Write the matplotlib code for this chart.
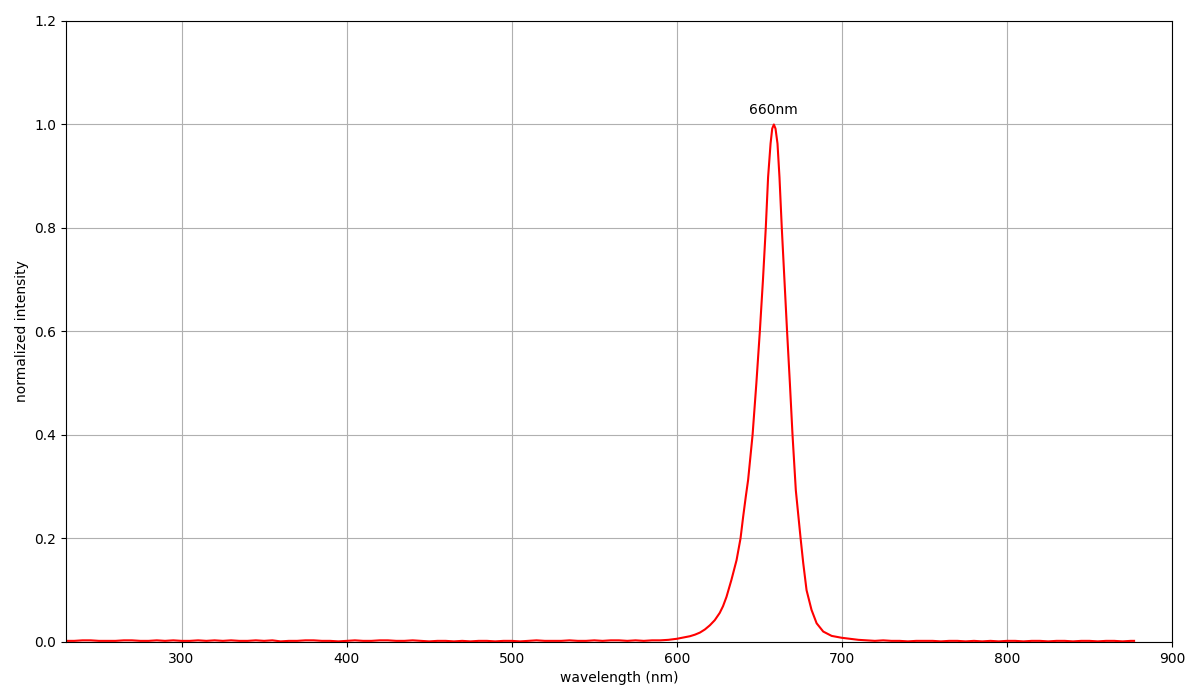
import matplotlib
matplotlib.use('Agg')
import matplotlib.pyplot as plt
import numpy as np

# flat part below the peak, every 5 nm
base_left_wl = np.arange(230, 590, 5)
base_left = [0.002, 0.002, 0.003, 0.003, 0.002, 0.002, 0.002, 0.003, 0.003, 0.002,
             0.002, 0.003, 0.002, 0.003, 0.002, 0.002, 0.003, 0.002, 0.003, 0.002,
             0.003, 0.002, 0.002, 0.003, 0.002, 0.003, 0.001, 0.002, 0.002, 0.003,
             0.003, 0.002, 0.002, 0.001, 0.002, 0.003, 0.002, 0.002, 0.003, 0.003,
             0.002, 0.002, 0.003, 0.002, 0.001, 0.002, 0.002, 0.001, 0.002, 0.001,
             0.002, 0.002, 0.001, 0.002, 0.002, 0.001, 0.002, 0.003, 0.002, 0.002,
             0.002, 0.003, 0.002, 0.002, 0.003, 0.002, 0.003, 0.003, 0.002, 0.003,
             0.002, 0.003]

# the peak
peak_wl = [590, 595, 600, 605, 608, 611, 614, 617, 620, 623, 626, 628, 630.1,
           633.1, 636.2, 638.6, 640.2, 641.8, 643.2, 645.9, 648.2, 650.3, 652.2,
           653.9, 655.3, 656.8, 657.8, 658.8, 659.8, 661, 662.2, 663.6, 665.2,
           666.8, 668.5, 670.1, 672.1, 673.5, 675, 676.6, 678.6, 681.6, 684.7,
           688.7, 693.8, 699.8, 704.8]
peak = [0.003, 0.004, 0.006, 0.009, 0.011, 0.014, 0.018, 0.024, 0.032, 0.042,
        0.056, 0.069, 0.087, 0.120, 0.158, 0.200, 0.242, 0.281, 0.313, 0.400,
        0.500, 0.600, 0.700, 0.800, 0.898, 0.963, 0.992, 1.0, 0.992, 0.963,
        0.898, 0.800, 0.700, 0.600, 0.500, 0.400, 0.293, 0.248, 0.200, 0.152,
        0.100, 0.062, 0.036, 0.020, 0.0116, 0.008, 0.006]

# tail after the peak
base_right_wl = list(range(710, 880, 5)) + [877]
base_right = [0.004, 0.003, 0.002, 0.003, 0.002, 0.002, 0.001, 0.002, 0.002, 0.002,
              0.001, 0.002, 0.002, 0.001, 0.002, 0.001, 0.002, 0.001, 0.002, 0.002,
              0.001, 0.002, 0.002, 0.001, 0.002, 0.002, 0.001, 0.002, 0.002, 0.001,
              0.002, 0.002, 0.001, 0.002, 0.002]

wl = np.concatenate([base_left_wl, peak_wl, base_right_wl])
intensity = np.concatenate([base_left, peak, base_right])

peak_label = '660nm'

fig = plt.figure(figsize=(12, 7), dpi=100)
ax = fig.add_axes([0.055, 0.083, 0.9217, 0.887])
ax.plot(wl, intensity, color='red', linewidth=1.5)

i_max = np.argmax(intensity)
ax.text(wl[i_max], intensity[i_max] + 0.015, peak_label, ha='center', va='bottom')

ax.set_xlim(230, 900)
ax.set_ylim(0, 1.2)
ax.set_xlabel('wavelength (nm)')
ax.set_ylabel('normalized intensity')
ax.grid(True)

fig.savefig('out.png')
